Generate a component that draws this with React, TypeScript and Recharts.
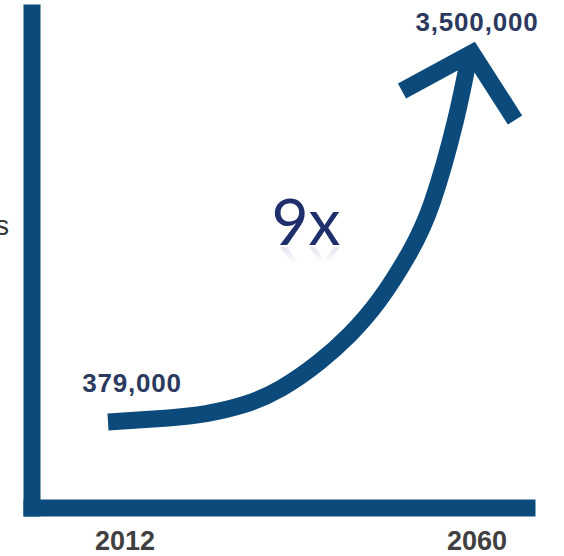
import { LineChart, Line, XAxis, YAxis, Customized } from 'recharts';

const years = [2012, 2020, 2025, 2030, 2035, 2040, 2044, 2048, 2052, 2055, 2058, 2060];
const people = [379000, 413000, 450000, 525000, 665000, 885000, 1113000, 1410000, 1810000, 2235000, 2901000, 3500000];
const tickYears = [2012, 2060];
const growthText = '9x';
const yAxisTail = 's';

const data = years.map((year, i) => ({ year, people: people[i] }));

const BLUE = '#0b4a7b';
const NAVY = '#2b3a5e';

const fmt = (v: number) => v.toLocaleString('en-US');

const YearTick = (props: any) => {
  const { x, y, payload, index } = props;
  const dx = index === 0 ? 17 : 7;
  return (
    <text
      x={x + dx}
      y={y + 34}
      textAnchor="middle"
      fontFamily="Liberation Sans, Arial, sans-serif"
      fontWeight="bold"
      fontSize={27}
      fill="#404040"
    >
      {payload.value}
    </text>
  );
};

const EndPoints = (props: any) => {
  const { cx, cy, index } = props;
  const last = data.length - 1;
  if (index === 0) {
    return (
      <text
        key="start"
        x={cx + 24}
        y={cy - 30}
        textAnchor="middle"
        fontFamily="Liberation Sans, Arial, sans-serif"
        fontWeight="bold"
        fontSize={26}
        letterSpacing={0.8}
        fill={NAVY}
      >
        {fmt(people[0])}
      </text>
    );
  }
  if (index === last) {
    return (
      <g key="end">
        <path
          d={`M${cx - 68},${cy + 39} L${cx + 2},${cy + 1} L${cx + 45},${cy + 68}`}
          stroke={BLUE}
          strokeWidth={17}
          fill="none"
          strokeLinejoin="miter"
          strokeMiterlimit={10}
        />
        <text
          x={cx + 7}
          y={cy - 21}
          textAnchor="middle"
          fontFamily="Liberation Sans, Arial, sans-serif"
          fontWeight="bold"
          fontSize={26}
          letterSpacing={0.8}
          fill={NAVY}
        >
          {fmt(people[last])}
        </text>
      </g>
    );
  }
  return <g key={`d${index}`} />;
};

const Notes = () => (
  <g>
    <defs>
      <linearGradient id="fade" x1="0" y1="0" x2="0" y2="1">
        <stop offset="0%" stopColor="#1e2f6b" stopOpacity={0} />
        <stop offset="60%" stopColor="#1e2f6b" stopOpacity={0} />
        <stop offset="100%" stopColor="#1e2f6b" stopOpacity={0.22} />
      </linearGradient>
    </defs>
    <text
      x={306}
      y={245}
      textAnchor="middle"
      fontFamily="Lato, sans-serif"
      fontSize={64}
      fill="#1e2f6b"
    >
      {growthText}
    </text>
    <text
      x={306}
      y={245}
      transform="translate(0, 492) scale(1, -1)"
      textAnchor="middle"
      fontFamily="Lato, sans-serif"
      fontSize={64}
      fill="url(#fade)"
    >
      {growthText}
    </text>
    <text
      x={9}
      y={235}
      textAnchor="end"
      fontFamily="Liberation Sans, Arial, sans-serif"
      fontSize={27}
      fill="#333333"
    >
      {yAxisTail}
    </text>
  </g>
);

export default function App() {
  return (
    <div style={{ position: 'absolute', left: 0, top: 0, background: '#fff' }}>
      <LineChart
        width={564}
        height={556}
        data={data}
        margin={{ top: 13, right: 37, left: 0, bottom: 0 }}
      >
        <XAxis
          dataKey="year"
          type="number"
          domain={[2012, 2060]}
          ticks={tickYears}
          padding={{ left: 76, right: 57 }}
          height={48}
          tickLine={false}
          axisLine={{ stroke: BLUE, strokeWidth: 17, strokeLinecap: 'square' }}
          tick={<YearTick />}
          interval={0}
        />
        <YAxis
          type="number"
          domain={[379000, 3500000]}
          padding={{ top: 39, bottom: 86 }}
          width={32}
          tick={false}
          tickLine={false}
          axisLine={{ stroke: BLUE, strokeWidth: 17, strokeLinecap: 'square' }}
        />
        <Line
          type="natural"
          dataKey="people"
          stroke={BLUE}
          strokeWidth={17}
          strokeLinecap="butt"
          dot={EndPoints}
          activeDot={false}
          isAnimationActive={false}
        />
        <Customized component={Notes} />
      </LineChart>
    </div>
  );
}
